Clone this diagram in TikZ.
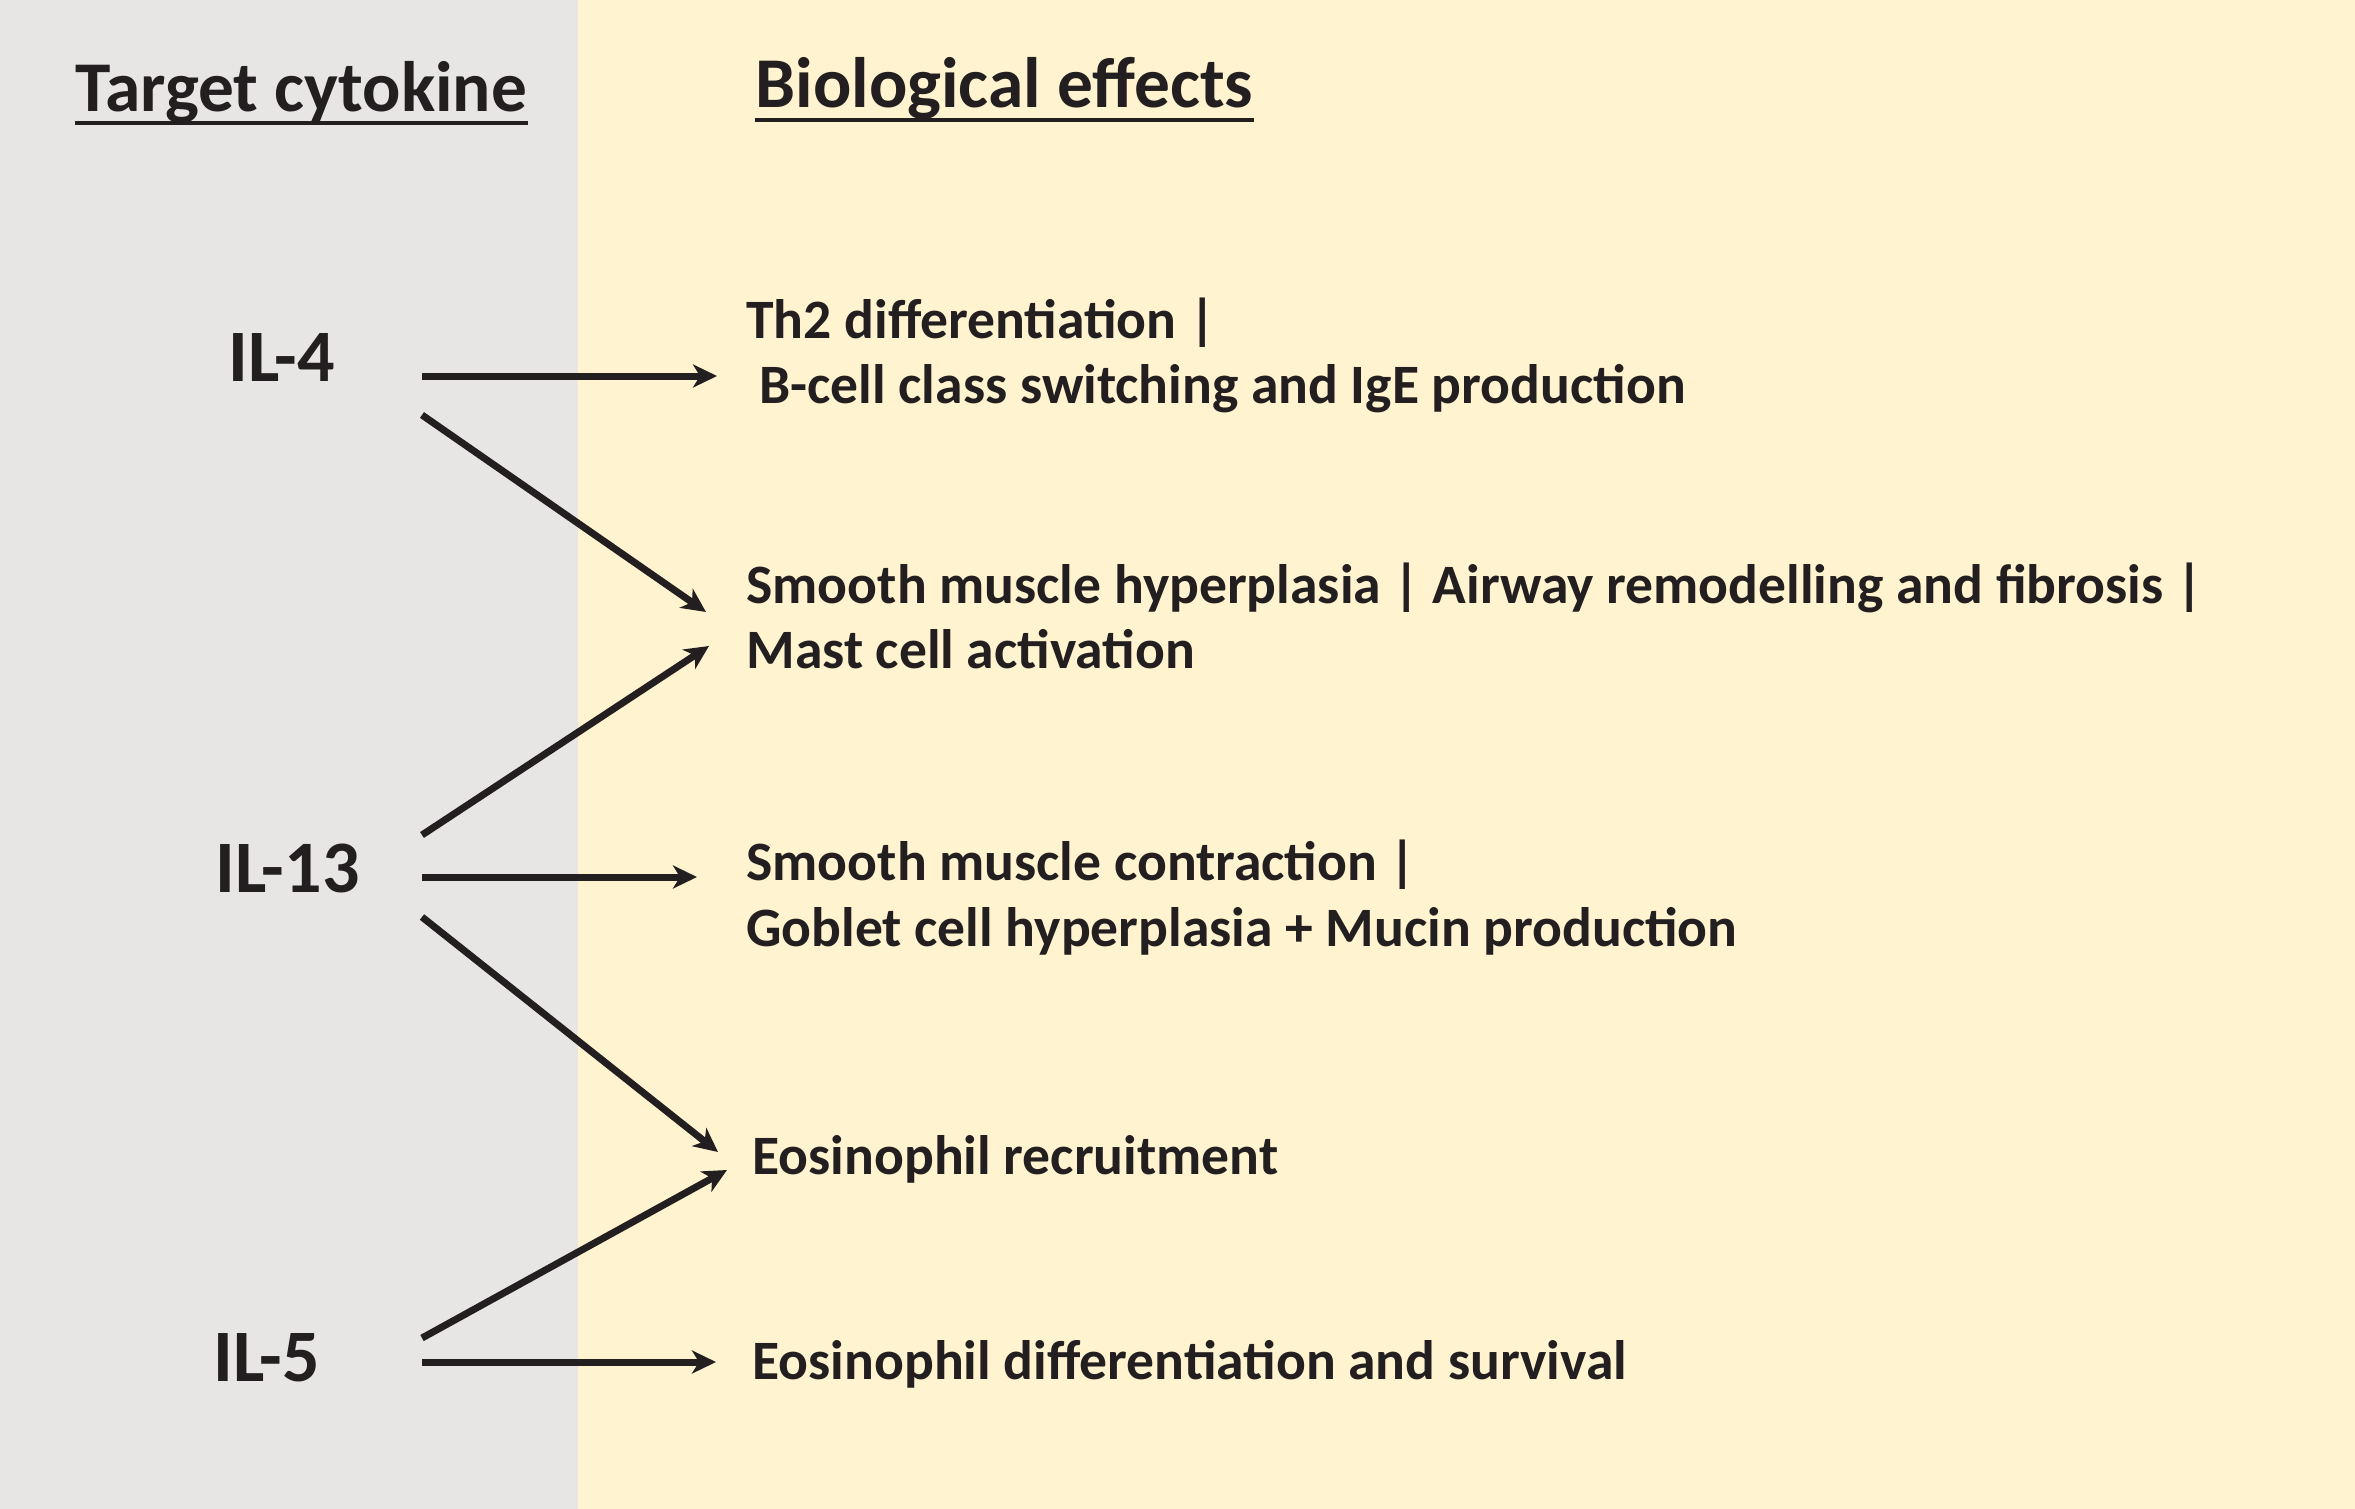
\documentclass[tikz,border=0pt]{standalone}
\usepackage{fontspec}
\setmainfont{Carlito}
\usetikzlibrary{arrows.meta}
\definecolor{panelgray}{HTML}{E8E6E5}
\definecolor{panelyellow}{HTML}{FFF3D0}
\definecolor{ink}{HTML}{231F20}
\begin{document}
\begin{tikzpicture}[x=0.5pt,y=-0.5pt,
  head/.style={font=\fontsize{35.7}{42}\selectfont\bfseries, text=ink, inner sep=0pt, anchor=base west},
  cyto/.style={font=\fontsize{37}{44}\selectfont\bfseries, text=ink, inner sep=0pt, anchor=base west},
  effect/.style={font=\fontsize{27.8}{34}\selectfont\bfseries, text=ink, inner sep=0pt, anchor=base west},
  link/.style={draw=ink, line width=3.5pt, -{Stealth[length=12pt,width=11.5pt,inset=3.5pt]}},
  uline/.style={draw=ink, line width=2pt}]
\fill[panelgray] (0,0) rectangle (578,1509);
\fill[panelyellow] (578,0) rectangle (2355,1509);
\useasboundingbox (0,0) rectangle (2355,1509);

% headers
\node[head] (h1) at (75,112) {Target cytokine};
\node[head] (h2) at (755,108) {Biological effects};
\draw[uline] ([yshift=-5.5pt]h1.base west) -- ([yshift=-5.5pt]h1.base east);
\draw[uline] ([yshift=-6pt]h2.base west) -- ([yshift=-6pt]h2.base east);

% cytokines
\node[cyto] (il4) at (228,381) {IL-4};
\node[cyto] (il13) at (215,892) {IL-13};
\node[cyto] (il5) at (213,1381) {IL-5};

% effects
\node[effect] (e1a) at (746,338) {Th2 differentiation |};
\node[effect] (e1b) at (759,403) {B-cell class switching and IgE production};
\node[effect] (e2a) at (746,603) {Smooth muscle hyperplasia | Airway remodelling and fibrosis |};
\node[effect] (e2b) at (746,668) {Mast cell activation};
\node[effect] (e3a) at (746,880) {Smooth muscle contraction |};
\node[effect] (e3b) at (746,946) {Goblet cell hyperplasia + Mucin production};
\node[effect] (e4) at (752,1174) {Eosinophil recruitment};
\node[effect] (e5) at (752,1379) {Eosinophil differentiation and survival};

% arrow end points
\coordinate (s1) at (422,376);  \coordinate (t1) at (717,376);
\coordinate (s2) at (422,415);  \coordinate (t2) at (706,612);
\coordinate (s3) at (422,835);  \coordinate (t3) at (709,646);
\coordinate (s4) at (422,877);  \coordinate (t4) at (697,877);
\coordinate (s5) at (422,917);  \coordinate (t5) at (718,1152);
\coordinate (s6) at (422,1338); \coordinate (t6) at (727,1170);
\coordinate (s7) at (422,1362); \coordinate (t7) at (716,1362);

\draw[link] (s1) -- (t1);
\draw[link] (s2) -- (t2);
\draw[link] (s3) -- (t3);
\draw[link] (s4) -- (t4);
\draw[link] (s5) -- (t5);
\draw[link] (s6) -- (t6);
\draw[link] (s7) -- (t7);
\end{tikzpicture}
\end{document}
